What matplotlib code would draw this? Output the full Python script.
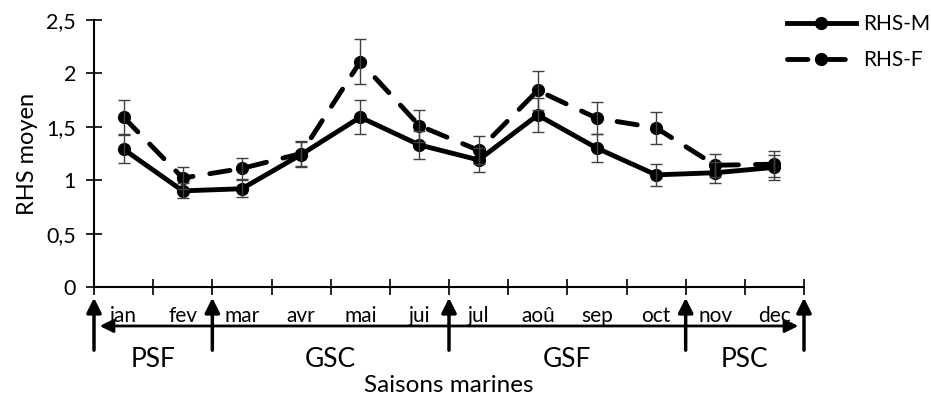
import matplotlib
matplotlib.use("Agg")
import matplotlib.pyplot as plt

plt.rcParams['font.family'] = ['Lato', 'DejaVu Sans']

# Monthly mean RHS values with their error bars
months = ["jan", "fev", "mar", "avr", "mai", "jui", "jul", "aoû", "sep", "oct", "nov", "dec"]
rhs_m = [1.29, 0.90, 0.92, 1.24, 1.59, 1.33, 1.19, 1.61, 1.30, 1.05, 1.07, 1.12]
err_m = [0.13, 0.07, 0.08, 0.12, 0.16, 0.13, 0.11, 0.16, 0.13, 0.10, 0.10, 0.12]
rhs_f = [1.59, 1.02, 1.11, 1.25, 2.11, 1.51, 1.28, 1.84, 1.58, 1.49, 1.14, 1.15]
err_f = [0.16, 0.10, 0.10, 0.12, 0.21, 0.15, 0.13, 0.18, 0.15, 0.15, 0.11, 0.12]

# Marine seasons: (name, first month index, last month index + 1)
seasons = [("PSF", 0, 2), ("GSC", 2, 6), ("GSF", 6, 10), ("PSC", 10, 12)]
yticks = [0, 0.5, 1, 1.5, 2, 2.5]
ytick_labels = ["0", "0,5", "1", "1,5", "2", "2,5"]

fig = plt.figure(figsize=(9.31, 3.97), dpi=100)
ax = fig.add_axes([94 / 931, 1 - 287 / 397, 710 / 931, 267 / 397])

x = [i + 0.5 for i in range(len(months))]

ax.plot(x, rhs_m, color="black", lw=3.5, marker="o", ms=8.5, label="RHS-M", zorder=3)
ax.plot(x, rhs_f, color="black", lw=3.5, marker="o", ms=8.5, label="RHS-F",
        dashes=(4.2, 3.5), dash_capstyle="round", zorder=3)
ax.errorbar(x, rhs_m, yerr=err_m, fmt="none", ecolor="#404040", elinewidth=1,
            capsize=4, capthick=1, zorder=4)
ax.errorbar(x, rhs_f, yerr=err_f, fmt="none", ecolor="#404040", elinewidth=1,
            capsize=4, capthick=1, zorder=4)

ax.set_xlim(0, 12)
ax.set_ylim(0, 2.5)
ax.set_xticks(range(13))
ax.set_xticklabels([])
ax.set_yticks(yticks)
ax.set_yticklabels(ytick_labels, fontsize=15.5)
ax.tick_params(axis="both", direction="inout", length=12, width=1.2, color="black")
ax.tick_params(axis="y", pad=7)
for side in ["top", "right"]:
    ax.spines[side].set_visible(False)
for side in ["left", "bottom"]:
    ax.spines[side].set_linewidth(1.5)

ax.set_ylabel("RHS moyen", fontsize=17, labelpad=6)

# Month names under the axis
for xi, m in zip(x, months):
    ax.text(xi, -0.108, m, transform=ax.get_xaxis_transform(), ha="center",
            va="center", fontsize=15)

# Double-headed arrow across the year
ax.annotate("", xy=(0.05, -0.146), xytext=(11.95, -0.146),
            xycoords=("data", "axes fraction"), textcoords=("data", "axes fraction"),
            arrowprops=dict(arrowstyle="<|-|>", color="black", lw=2, mutation_scale=20))

# Upward arrows at season boundaries
for b in [0, 2, 6, 10, 12]:
    ax.annotate("", xy=(b, -0.03), xytext=(b, -0.247),
                xycoords=("data", "axes fraction"), textcoords=("data", "axes fraction"),
                arrowprops=dict(arrowstyle="-|>", color="black", lw=2.5, mutation_scale=22))

# Season names
for name, s0, s1 in seasons:
    ax.text((s0 + s1) / 2, -0.27, name, transform=ax.get_xaxis_transform(),
            ha="center", va="center", fontsize=19)

ax.text(6, -0.37, "Saisons marines", transform=ax.get_xaxis_transform(),
        ha="center", va="center", fontsize=17.5)

ax.legend(loc="upper left", bbox_to_anchor=(787 / 931, 1 - 14 / 397),
          bbox_transform=fig.transFigure, frameon=False, fontsize=15,
          handlelength=3.3, handletextpad=0.35, labelspacing=0.78, borderaxespad=0,
          borderpad=0)

fig.savefig("out.png", dpi=100)
